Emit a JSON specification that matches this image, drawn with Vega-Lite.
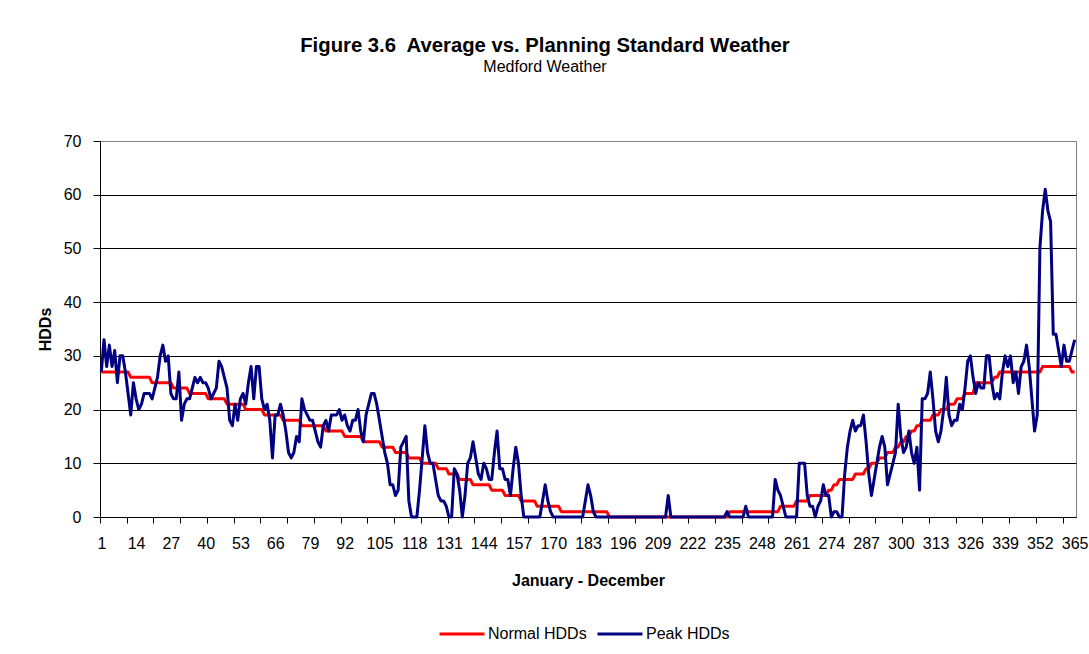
{
"$schema": "https://vega.github.io/schema/vega-lite/v6.json",
"width": 976, "height": 376,
"autosize": {"type": "none"},
"padding": {"left": 100, "top": 141, "right": 13, "bottom": 137},
"background": "white",
"config": {"view": {"stroke": "#808080", "strokeWidth": 1}, "font": "Liberation Sans"},
"title": {"text": "Figure 3.6\u00a0 Average vs. Planning Standard Weather", "subtitle": "Medford Weather", "anchor": "middle", "dx": -43, "offset": 58, "font": "Liberation Sans", "fontSize": 20.3, "fontWeight": "bold", "color": "black", "subtitleFont": "Liberation Sans", "subtitleFontSize": 16, "subtitleColor": "black", "subtitlePadding": 3},
"data": {"values": [
{"d":1,"n":27,"p":27},{"d":2,"n":27,"p":33},{"d":3,"n":27,"p":28},{"d":4,"n":27,"p":32},{"d":5,"n":27,"p":28},{"d":6,"n":27,"p":31},{"d":7,"n":27,"p":25},{"d":8,"n":27,"p":30},{"d":9,"n":27,"p":30},{"d":10,"n":27,"p":27},
{"d":11,"n":27,"p":23},{"d":12,"n":26,"p":19},{"d":13,"n":26,"p":25},{"d":14,"n":26,"p":22},{"d":15,"n":26,"p":20},{"d":16,"n":26,"p":21},{"d":17,"n":26,"p":23},{"d":18,"n":26,"p":23},{"d":19,"n":26,"p":23},{"d":20,"n":25,"p":22},
{"d":21,"n":25,"p":24},{"d":22,"n":25,"p":26},{"d":23,"n":25,"p":30},{"d":24,"n":25,"p":32},{"d":25,"n":25,"p":29},{"d":26,"n":25,"p":30},{"d":27,"n":25,"p":23},{"d":28,"n":24,"p":22},{"d":29,"n":24,"p":22},{"d":30,"n":24,"p":27},
{"d":31,"n":24,"p":18},{"d":32,"n":24,"p":21},{"d":33,"n":24,"p":22},{"d":34,"n":23,"p":22},{"d":35,"n":23,"p":24},{"d":36,"n":23,"p":26},{"d":37,"n":23,"p":25},{"d":38,"n":23,"p":26},{"d":39,"n":23,"p":25},{"d":40,"n":23,"p":25},
{"d":41,"n":22,"p":24},{"d":42,"n":22,"p":22},{"d":43,"n":22,"p":23},{"d":44,"n":22,"p":24},{"d":45,"n":22,"p":29},{"d":46,"n":22,"p":28},{"d":47,"n":22,"p":26},{"d":48,"n":21,"p":24},{"d":49,"n":21,"p":18},{"d":50,"n":21,"p":17},
{"d":51,"n":21,"p":21},{"d":52,"n":21,"p":18},{"d":53,"n":21,"p":22},{"d":54,"n":21,"p":23},{"d":55,"n":20,"p":21},{"d":56,"n":20,"p":25},{"d":57,"n":20,"p":28},{"d":58,"n":20,"p":22},{"d":59,"n":20,"p":28},{"d":60,"n":20,"p":28},
{"d":61,"n":20,"p":22},{"d":62,"n":19,"p":20},{"d":63,"n":19,"p":21},{"d":64,"n":19,"p":18},{"d":65,"n":19,"p":11},{"d":66,"n":19,"p":19},{"d":67,"n":19,"p":19},{"d":68,"n":19,"p":21},{"d":69,"n":18,"p":19},{"d":70,"n":18,"p":16},
{"d":71,"n":18,"p":12},{"d":72,"n":18,"p":11},{"d":73,"n":18,"p":12},{"d":74,"n":18,"p":15},{"d":75,"n":18,"p":14},{"d":76,"n":17,"p":22},{"d":77,"n":17,"p":20},{"d":78,"n":17,"p":19},{"d":79,"n":17,"p":18},{"d":80,"n":17,"p":18},
{"d":81,"n":17,"p":16},{"d":82,"n":17,"p":14},{"d":83,"n":17,"p":13},{"d":84,"n":17,"p":17},{"d":85,"n":16,"p":18},{"d":86,"n":16,"p":16},{"d":87,"n":16,"p":19},{"d":88,"n":16,"p":19},{"d":89,"n":16,"p":19},{"d":90,"n":16,"p":20},
{"d":91,"n":16,"p":18},{"d":92,"n":15,"p":19},{"d":93,"n":15,"p":17},{"d":94,"n":15,"p":16},{"d":95,"n":15,"p":18},{"d":96,"n":15,"p":18},{"d":97,"n":15,"p":20},{"d":98,"n":15,"p":16},{"d":99,"n":14,"p":14},{"d":100,"n":14,"p":19},
{"d":101,"n":14,"p":21},{"d":102,"n":14,"p":23},{"d":103,"n":14,"p":23},{"d":104,"n":14,"p":21},{"d":105,"n":14,"p":18},{"d":106,"n":13,"p":15},{"d":107,"n":13,"p":12},{"d":108,"n":13,"p":10},{"d":109,"n":13,"p":6},{"d":110,"n":13,"p":6},
{"d":111,"n":12,"p":4},{"d":112,"n":12,"p":5},{"d":113,"n":12,"p":13},{"d":114,"n":12,"p":14},{"d":115,"n":12,"p":15},{"d":116,"n":11,"p":3},{"d":117,"n":11,"p":0},{"d":118,"n":11,"p":0},{"d":119,"n":11,"p":0},{"d":120,"n":11,"p":5},
{"d":121,"n":10,"p":11},{"d":122,"n":10,"p":17},{"d":123,"n":10,"p":12},{"d":124,"n":10,"p":10},{"d":125,"n":10,"p":10},{"d":126,"n":10,"p":7},{"d":127,"n":9,"p":4},{"d":128,"n":9,"p":3},{"d":129,"n":9,"p":3},{"d":130,"n":9,"p":2},
{"d":131,"n":8,"p":0},{"d":132,"n":8,"p":0},{"d":133,"n":8,"p":9},{"d":134,"n":8,"p":8},{"d":135,"n":7,"p":5},{"d":136,"n":7,"p":0},{"d":137,"n":7,"p":4},{"d":138,"n":7,"p":10},{"d":139,"n":7,"p":11},{"d":140,"n":6,"p":14},
{"d":141,"n":6,"p":11},{"d":142,"n":6,"p":8},{"d":143,"n":6,"p":7},{"d":144,"n":6,"p":10},{"d":145,"n":6,"p":9},{"d":146,"n":6,"p":7},{"d":147,"n":5,"p":7},{"d":148,"n":5,"p":12},{"d":149,"n":5,"p":16},{"d":150,"n":5,"p":9},
{"d":151,"n":5,"p":9},{"d":152,"n":4,"p":7},{"d":153,"n":4,"p":7},{"d":154,"n":4,"p":4},{"d":155,"n":4,"p":9},{"d":156,"n":4,"p":13},{"d":157,"n":4,"p":10},{"d":158,"n":3,"p":4},{"d":159,"n":3,"p":0},{"d":160,"n":3,"p":0},
{"d":161,"n":3,"p":0},{"d":162,"n":3,"p":0},{"d":163,"n":3,"p":0},{"d":164,"n":2,"p":0},{"d":165,"n":2,"p":0},{"d":166,"n":2,"p":3},{"d":167,"n":2,"p":6},{"d":168,"n":2,"p":3},{"d":169,"n":2,"p":1},{"d":170,"n":2,"p":0},
{"d":171,"n":2,"p":0},{"d":172,"n":2,"p":0},{"d":173,"n":1,"p":0},{"d":174,"n":1,"p":0},{"d":175,"n":1,"p":0},{"d":176,"n":1,"p":0},{"d":177,"n":1,"p":0},{"d":178,"n":1,"p":0},{"d":179,"n":1,"p":0},{"d":180,"n":1,"p":0},
{"d":181,"n":1,"p":0},{"d":182,"n":1,"p":3},{"d":183,"n":1,"p":6},{"d":184,"n":1,"p":4},{"d":185,"n":1,"p":1},{"d":186,"n":1,"p":0},{"d":187,"n":1,"p":0},{"d":188,"n":1,"p":0},{"d":189,"n":1,"p":0},{"d":190,"n":1,"p":0},
{"d":191,"n":0,"p":0},{"d":192,"n":0,"p":0},{"d":193,"n":0,"p":0},{"d":194,"n":0,"p":0},{"d":195,"n":0,"p":0},{"d":196,"n":0,"p":0},{"d":197,"n":0,"p":0},{"d":198,"n":0,"p":0},{"d":199,"n":0,"p":0},{"d":200,"n":0,"p":0},
{"d":201,"n":0,"p":0},{"d":202,"n":0,"p":0},{"d":203,"n":0,"p":0},{"d":204,"n":0,"p":0},{"d":205,"n":0,"p":0},{"d":206,"n":0,"p":0},{"d":207,"n":0,"p":0},{"d":208,"n":0,"p":0},{"d":209,"n":0,"p":0},{"d":210,"n":0,"p":0},
{"d":211,"n":0,"p":0},{"d":212,"n":0,"p":0},{"d":213,"n":0,"p":4},{"d":214,"n":0,"p":0},{"d":215,"n":0,"p":0},{"d":216,"n":0,"p":0},{"d":217,"n":0,"p":0},{"d":218,"n":0,"p":0},{"d":219,"n":0,"p":0},{"d":220,"n":0,"p":0},
{"d":221,"n":0,"p":0},{"d":222,"n":0,"p":0},{"d":223,"n":0,"p":0},{"d":224,"n":0,"p":0},{"d":225,"n":0,"p":0},{"d":226,"n":0,"p":0},{"d":227,"n":0,"p":0},{"d":228,"n":0,"p":0},{"d":229,"n":0,"p":0},{"d":230,"n":0,"p":0},
{"d":231,"n":0,"p":0},{"d":232,"n":0,"p":0},{"d":233,"n":0,"p":0},{"d":234,"n":0,"p":0},{"d":235,"n":0,"p":1},{"d":236,"n":1,"p":0},{"d":237,"n":1,"p":0},{"d":238,"n":1,"p":0},{"d":239,"n":1,"p":0},{"d":240,"n":1,"p":0},
{"d":241,"n":1,"p":0},{"d":242,"n":1,"p":2},{"d":243,"n":1,"p":0},{"d":244,"n":1,"p":0},{"d":245,"n":1,"p":0},{"d":246,"n":1,"p":0},{"d":247,"n":1,"p":0},{"d":248,"n":1,"p":0},{"d":249,"n":1,"p":0},{"d":250,"n":1,"p":0},
{"d":251,"n":1,"p":0},{"d":252,"n":1,"p":0},{"d":253,"n":1,"p":7},{"d":254,"n":1,"p":5},{"d":255,"n":2,"p":4},{"d":256,"n":2,"p":2},{"d":257,"n":2,"p":0},{"d":258,"n":2,"p":0},{"d":259,"n":2,"p":0},{"d":260,"n":2,"p":0},
{"d":261,"n":3,"p":0},{"d":262,"n":3,"p":10},{"d":263,"n":3,"p":10},{"d":264,"n":3,"p":10},{"d":265,"n":3,"p":4},{"d":266,"n":4,"p":2},{"d":267,"n":4,"p":2},{"d":268,"n":4,"p":0},{"d":269,"n":4,"p":2},{"d":270,"n":4,"p":3},
{"d":271,"n":4,"p":6},{"d":272,"n":4,"p":4},{"d":273,"n":5,"p":4},{"d":274,"n":5,"p":0},{"d":275,"n":6,"p":1},{"d":276,"n":6,"p":1},{"d":277,"n":7,"p":0},{"d":278,"n":7,"p":0},{"d":279,"n":7,"p":8},{"d":280,"n":7,"p":13},
{"d":281,"n":7,"p":16},{"d":282,"n":7,"p":18},{"d":283,"n":8,"p":16},{"d":284,"n":8,"p":17},{"d":285,"n":8,"p":17},{"d":286,"n":8,"p":19},{"d":287,"n":9,"p":14},{"d":288,"n":9,"p":8},{"d":289,"n":10,"p":4},{"d":290,"n":10,"p":7},
{"d":291,"n":10,"p":10},{"d":292,"n":11,"p":13},{"d":293,"n":11,"p":15},{"d":294,"n":11,"p":13},{"d":295,"n":12,"p":6},{"d":296,"n":12,"p":8},{"d":297,"n":12,"p":10},{"d":298,"n":13,"p":12},{"d":299,"n":13,"p":21},{"d":300,"n":14,"p":15},
{"d":301,"n":14,"p":12},{"d":302,"n":15,"p":13},{"d":303,"n":15,"p":16},{"d":304,"n":16,"p":12},{"d":305,"n":16,"p":10},{"d":306,"n":17,"p":13},{"d":307,"n":17,"p":5},{"d":308,"n":18,"p":22},{"d":309,"n":18,"p":22},{"d":310,"n":18,"p":23},
{"d":311,"n":18,"p":27},{"d":312,"n":19,"p":22},{"d":313,"n":19,"p":16},{"d":314,"n":19,"p":14},{"d":315,"n":20,"p":16},{"d":316,"n":20,"p":20},{"d":317,"n":20,"p":26},{"d":318,"n":21,"p":19},{"d":319,"n":21,"p":17},{"d":320,"n":21,"p":18},
{"d":321,"n":22,"p":18},{"d":322,"n":22,"p":21},{"d":323,"n":22,"p":20},{"d":324,"n":23,"p":24},{"d":325,"n":23,"p":29},{"d":326,"n":23,"p":30},{"d":327,"n":23,"p":26},{"d":328,"n":25,"p":23},{"d":329,"n":25,"p":25},{"d":330,"n":25,"p":24},
{"d":331,"n":25,"p":24},{"d":332,"n":25,"p":30},{"d":333,"n":25,"p":30},{"d":334,"n":25,"p":25},{"d":335,"n":26,"p":22},{"d":336,"n":26,"p":23},{"d":337,"n":27,"p":22},{"d":338,"n":27,"p":27},{"d":339,"n":27,"p":30},{"d":340,"n":27,"p":28},
{"d":341,"n":27,"p":30},{"d":342,"n":27,"p":25},{"d":343,"n":27,"p":27},{"d":344,"n":27,"p":23},{"d":345,"n":27,"p":28},{"d":346,"n":27,"p":29},{"d":347,"n":27,"p":32},{"d":348,"n":27,"p":28},{"d":349,"n":27,"p":22},{"d":350,"n":27,"p":16},
{"d":351,"n":27,"p":19},{"d":352,"n":27,"p":50},{"d":353,"n":28,"p":57},{"d":354,"n":28,"p":61},{"d":355,"n":28,"p":57},{"d":356,"n":28,"p":55},{"d":357,"n":28,"p":34},{"d":358,"n":28,"p":34},{"d":359,"n":28,"p":31},{"d":360,"n":28,"p":28},
{"d":361,"n":28,"p":32},{"d":362,"n":28,"p":29},{"d":363,"n":28,"p":29},{"d":364,"n":27,"p":31},{"d":365,"n":27,"p":33}
]},
"transform": [{"fold": ["n", "p"], "as": ["k", "v"]}],
"encoding": {
  "x": {"field": "d", "type": "quantitative",
    "scale": {"domain": [0.5, 365.5], "nice": false, "zero": false},
    "axis": {
      "values": [0.5,1,10.5,14,20.5,27,30.5,40,40.5,50.5,53,60.5,66,70.5,79,80.5,90.5,92,100.5,105,110.5,118,120.5,130.5,131,140.5,144,150.5,157,160.5,170,170.5,180.5,183,190.5,196,200.5,209,210.5,220.5,222,230.5,235,240.5,248,250.5,260.5,261,270.5,274,280.5,287,290.5,300,300.5,310.5,313,320.5,326,330.5,339,340.5,350.5,352,360.5,365],
      "labelExpr": "datum.value % 1 === 0 ? '' + datum.value : ''",
      "tickOpacity": {"condition": {"test": "datum.value % 1 !== 0", "value": 1}, "value": 0},
      "tickSize": 6, "tickColor": "black", "domainColor": "black", "grid": false,
      "labelOverlap": false, "labelBound": false, "labelFlush": false,
      "labelFont": "Liberation Sans", "labelFontSize": 16, "labelColor": "black", "labelPadding": 12,
      "title": "January - December", "titleFont": "Liberation Sans", "titleFontSize": 16, "titleFontWeight": "bold", "titleColor": "black", "titlePadding": 21
    }},
  "y": {"field": "v", "type": "quantitative",
    "scale": {"domain": [0, 70], "nice": false},
    "axis": {
      "values": [0,10,20,30,40,50,60,70],
      "grid": true, "gridColor": {"condition": {"test": "datum.value === 70", "value": "#808080"}, "value": "black"}, "gridOpacity": 1, "gridWidth": 1,
      "tickSize": 7, "tickColor": "black", "domainColor": "black",
      "labelFont": "Liberation Sans", "labelFontSize": 16, "labelColor": "black", "labelPadding": 12,
      "title": "HDDs", "titleFont": "Liberation Sans", "titleFontSize": 16, "titleFontWeight": "bold", "titleColor": "black", "titlePadding": 10
    }},
  "color": {"field": "k", "type": "nominal",
    "scale": {"domain": ["n", "p"], "range": ["#ff0000", "#000080"]},
    "legend": {"orient": "none", "legendX": 338, "legendY": 469, "direction": "horizontal", "title": null,
      "symbolType": "stroke", "symbolSize": 2025, "symbolStrokeWidth": 3, "columnPadding": 4, "labelOffset": 2,
      "labelFont": "Liberation Sans", "labelFontSize": 16, "labelColor": "black",
      "labelExpr": "datum.label === 'n' ? 'Normal HDDs' : 'Peak HDDs'"}}
},
"layer": [
  {"transform": [{"filter": "datum.k === 'n'"}], "mark": {"type": "line", "strokeWidth": 3, "strokeJoin": "round"}},
  {"transform": [{"filter": "datum.k === 'p'"}], "mark": {"type": "line", "strokeWidth": 3, "strokeJoin": "round"}}
]
}
